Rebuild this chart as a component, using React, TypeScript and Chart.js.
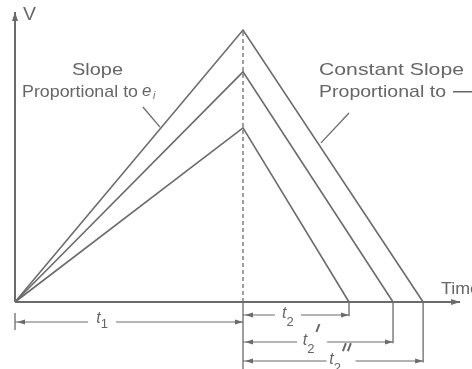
import React, { useEffect, useRef } from "react";
import { Chart, registerables } from "chart.js";

Chart.register(...registerables);

// ---- data (time units, volts) ----
const chargeTime = 10; // t1
const peakVoltages = [10, 8.46, 6.4]; // three integrator peaks
const rundownTimes = [7.9, 6.58, 4.65]; // t2'', t2', t2
const rundownPrimes = [2, 1, 0];
const timeAxisMax = 19.52;
const voltAxisMax = 10.66;

const LINE = "#6b6b6b";
const TEXT = "#666666";

function seg(a: [number, number], b: [number, number], extra: any = {}) {
  return {
    data: [
      { x: a[0], y: a[1] },
      { x: b[0], y: b[1] },
    ],
    showLine: true,
    pointRadius: 0,
    borderColor: LINE,
    borderWidth: 1.5,
    clip: false as any,
    ...extra,
  };
}

export default function App() {
  const ref = useRef<HTMLCanvasElement | null>(null);

  useEffect(() => {
    document.body.style.margin = "0";
    const canvas = ref.current!;
    const datasets: any[] = [];

    // axes
    datasets.push(seg([0, 0], [timeAxisMax, 0], { borderWidth: 2 }));
    datasets.push(seg([0, 0], [0, voltAxisMax], { borderWidth: 2 }));

    // integrator ramps
    peakVoltages.forEach((v, i) => {
      datasets.push({
        data: [
          { x: 0, y: 0 },
          { x: chargeTime, y: v },
          { x: chargeTime + rundownTimes[i], y: 0 },
        ],
        showLine: true,
        pointRadius: 0,
        borderColor: LINE,
        borderWidth: 1.6,
        tension: 0,
        clip: false,
      });
    });

    // dashed marker at end of t1
    datasets.push(
      seg([chargeTime, 0], [chargeTime, peakVoltages[0]], { borderDash: [4, 3], borderWidth: 1.3 })
    );

    // extension lines below axis
    const t1Row = -0.735;
    const rowFor = [-2.17, -1.47, -0.478]; // rows for t2'', t2', t2
    datasets.push(seg([0, -0.4], [0, -1.03], { borderWidth: 1.3 }));
    datasets.push(seg([chargeTime, 0], [chargeTime, -2.6], { borderWidth: 1.3 }));
    rundownTimes.forEach((t, i) => {
      datasets.push(seg([chargeTime + t, 0], [chargeTime + t, rowFor[i] - 0.05], { borderWidth: 1.3 }));
    });

    // dimension lines
    datasets.push(seg([0, t1Row], [chargeTime, t1Row], { borderWidth: 1.2 }));
    rundownTimes.forEach((t, i) => {
      datasets.push(seg([chargeTime, rowFor[i]], [chargeTime + t, rowFor[i]], { borderWidth: 1.2 }));
    });

    // leader lines
    datasets.push(seg([5.61, 7.17], [6.36, 6.43], { borderWidth: 1.3 }));
    datasets.push(seg([14.65, 6.95], [13.42, 5.85], { borderWidth: 1.3 }));

    const arrow = (ctx: CanvasRenderingContext2D, x: number, y: number, dir: string, len = 8, hw = 2.6) => {
      ctx.beginPath();
      ctx.moveTo(x, y);
      if (dir === "left") {
        ctx.lineTo(x + len, y - hw);
        ctx.lineTo(x + len, y + hw);
      } else if (dir === "right") {
        ctx.lineTo(x - len, y - hw);
        ctx.lineTo(x - len, y + hw);
      } else if (dir === "up") {
        ctx.lineTo(x - hw, y + len);
        ctx.lineTo(x + hw, y + len);
      }
      ctx.closePath();
      ctx.fillStyle = LINE;
      ctx.fill();
    };

    const fitText = (
      ctx: CanvasRenderingContext2D,
      text: string,
      left: number,
      mid: number,
      width: number,
      font: string
    ) => {
      ctx.font = font;
      const w = ctx.measureText(text).width;
      ctx.save();
      ctx.translate(left, mid);
      ctx.scale(width / w, 1);
      ctx.textBaseline = "middle";
      ctx.textAlign = "left";
      ctx.fillStyle = TEXT;
      ctx.fillText(text, 0, 0);
      ctx.restore();
    };

    const dimLabel = (
      ctx: CanvasRenderingContext2D,
      cx: number,
      cy: number,
      digit: string,
      primes: number,
      gap: number,
      tOff: number,
      subOff: number
    ) => {
      ctx.font = 'italic 16px "Liberation Sans"';
      const tw = ctx.measureText("t").width;
      ctx.font = '13px "Liberation Sans"';
      const sw = ctx.measureText(digit).width;
      const pw = primes ? primes * 5 + 2 : 0;
      const total = tw + sw + pw;
      const left = cx - total / 2;
      ctx.fillStyle = "#ffffff";
      ctx.fillRect(cx - gap / 2, cy - 3, gap, 6);
      ctx.fillStyle = TEXT;
      ctx.textBaseline = "alphabetic";
      ctx.textAlign = "left";
      ctx.font = 'italic 16px "Liberation Sans"';
      ctx.fillText("t", left, cy + tOff);
      ctx.font = '13px "Liberation Sans"';
      ctx.fillText(digit, left + tw, cy + subOff);
      ctx.strokeStyle = TEXT;
      ctx.lineWidth = 2;
      for (let k = 0; k < primes; k++) {
        const x0 = left + tw + sw + 2 + k * 5;
        ctx.beginPath();
        ctx.moveTo(x0 + 3, cy - 18);
        ctx.lineTo(x0, cy - 10);
        ctx.stroke();
      }
    };

    const annot = {
      id: "annot",
      afterDatasetsDraw(chart: any) {
        const ctx: CanvasRenderingContext2D = chart.ctx;
        const xs = chart.scales.x;
        const ys = chart.scales.y;
        const px = (v: number) => xs.getPixelForValue(v);
        const py = (v: number) => ys.getPixelForValue(v);
        ctx.save();
        // axis arrows
        arrow(ctx, px(timeAxisMax), py(0), "right", 9, 3);
        arrow(ctx, px(0), py(voltAxisMax), "up", 9, 3);
        // dimension arrows
        arrow(ctx, px(0) + 2, py(t1Row), "left");
        arrow(ctx, px(chargeTime), py(t1Row), "right");
        rundownTimes.forEach((t, i) => {
          arrow(ctx, px(chargeTime) + 2, py(rowFor[i]), "left");
          arrow(ctx, px(chargeTime + t), py(rowFor[i]), "right");
        });
        // dimension labels
        dimLabel(ctx, px(3.82), py(t1Row), "1", 0, 28, 1, 6);
        const labelX = [14.3, 13.03, 11.97];
        const gaps = [29, 30, 26];
        rundownTimes.forEach((t, i) => {
          dimLabel(ctx, px(labelX[i]), py(rowFor[i]), "2", rundownPrimes[i], gaps[i], 3, 11);
        });
        // texts
        const f = '17px "Liberation Sans"';
        fitText(ctx, "V", 23, 15, 13, '19px "Liberation Sans"');
        fitText(ctx, "Slope", 72, 70, 51, f);
        fitText(ctx, "Proportional to", 22, 92, 116, f);
        ctx.fillStyle = TEXT;
        ctx.font = 'italic 17px "Liberation Sans"';
        ctx.textBaseline = "middle";
        ctx.fillText("e", 142, 91);
        ctx.font = 'italic 10px "Liberation Sans"';
        ctx.fillText("i", 153, 96);
        fitText(ctx, "Constant Slope", 319, 70, 145, f);
        fitText(ctx, "Proportional to", 319, 92, 127, f);
        ctx.fillStyle = TEXT;
        ctx.fillRect(453, 91, 19, 1.5);
        fitText(ctx, "Time", 441, 289, 39, f);
        ctx.restore();
      },
    };

    const chart = new Chart(canvas, {
      type: "scatter",
      data: { datasets },
      options: {
        animation: false,
        responsive: false,
        events: [],
        layout: { padding: { left: 15, right: 1, top: 30, bottom: 67 } },
        plugins: { legend: { display: false }, tooltip: { enabled: false } },
        scales: {
          x: { type: "linear", min: 0, max: 20, display: false },
          y: { type: "linear", min: 0, max: 10, display: false },
        },
      },
      plugins: [annot],
    });
    return () => chart.destroy();
  }, []);

  return (
    <div style={{ width: 472, height: 369, background: "#fff" }}>
      <canvas ref={ref} width={472} height={369} style={{ display: "block" }} />
    </div>
  );
}
